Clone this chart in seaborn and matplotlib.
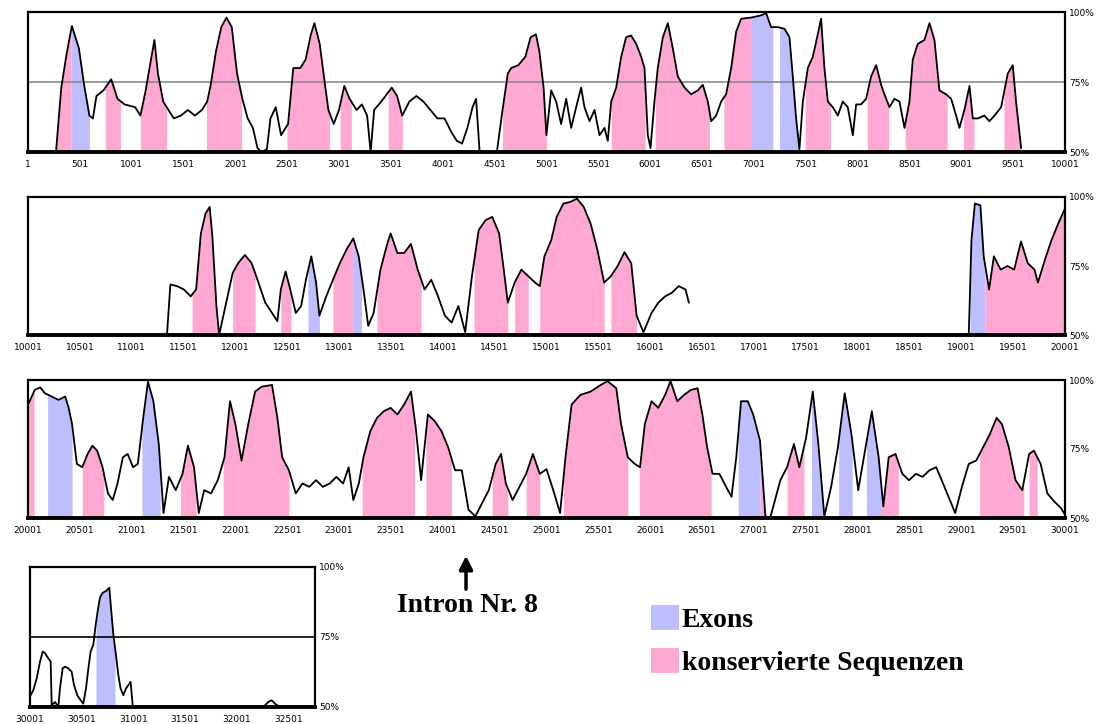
import numpy as np
import pandas as pd
import matplotlib
matplotlib.use("Agg")
import matplotlib.pyplot as plt
import seaborn as sns
from matplotlib.patches import Patch

nan = np.nan

# conservation curves (position in bp, identity in %)
p1_pos = [271, 322, 373, 424, 492, 542, 593, 627, 661, 729, 803, 864, 932, 1034, 1085, 1136, 1187, 1220,
          1254, 1305, 1356, 1407, 1475, 1542, 1610, 1678, 1729, 1763, 1814, 1865, 1915, 1966, 2017, 2068,
          2119, 2170, 2214, 2254, 2305, 2339, 2390, 2441, 2509, 2559, 2627, 2678, 2729, 2763, 2814, 2865,
          2898, 2949, 3000, 3051, 3102, 3170, 3221, 3271, 3305, 3339, 3407, 3509, 3560, 3610, 3678, 3746,
          3814, 3882, 3949, 4017, 4085, 4136, 4187, 4238, 4288, 4322, 4356, 4440, 4526, 4577, 4628, 4661,
          4729, 4797, 4848, 4899, 4932, 4973, 5000, 5046, 5094, 5142, 5191, 5239, 5287, 5335, 5367, 5416,
          5464, 5512, 5560, 5592, 5625, 5673, 5721, 5769, 5817, 5866, 5914, 5946, 5978, 6004, 6042, 6074,
          6123, 6171, 6219, 6267, 6332, 6396, 6460, 6508, 6557, 6589, 6637, 6685, 6733, 6782, 6830, 6878,
          6974, 7071, 7119, 7167, 7232, 7296, 7344, 7376, 7408, 7440, 7473, 7521, 7569, 7617, 7649, 7681,
          7714, 7762, 7810, 7858, 7906, 7955, 7987, 8035, 8083, 8131, 8180, 8228, 8260, 8308, 8356, 8405,
          8453, 8501, 8533, 8581, 8646, 8694, 8742, 8790, 8855, 8903, 8951, 8983, 9031, 9080, 9112, 9160,
          9224, 9272, 9321, 9385, 9449, 9497, 9529, 9578]
p1_val = [50, 73, 85, 95, 87, 74, 63, 62, 70, 72, 76, 69, 67, 66, 63, 72, 83, 90,
          78, 68, 65, 62, 63, 65, 63, 65, 68, 74, 86, 94.6, 98, 94.6, 78, 69,
          62, 58.6, 51.4, 50, 51, 62, 66, 56, 60, 80, 80, 83, 92, 96, 88.6, 74,
          65, 60, 65, 73.6, 69, 65, 67, 63, 50, 65, 68, 73, 70, 63, 68, 70,
          68, 65, 62, 62, 57, 54, 53, 58.6, 66, 69, 50, nan, 51, 65, 78, 80,
          81, 84, 91, 92, 86, 73, 56, 72, 68, 60, 69, 58.6, 66, 73, 66, 61,
          65, 56, 58.6, 54, 68, 73, 84, 91, 91.6, 88.6, 84, 80, 56, 51.4, 68, 80,
          91, 96, 87, 77, 73, 70.6, 72, 74, 68, 61, 63, 68, 70.6, 80, 93, 97.6,
          98, 98.8, 99.6, 94.6, 94.6, 94, 91, 77, 62, 51, 68, 80, 84, 92, 97.6, 80,
          68, 66, 63, 68, 66, 56, 67, 67, 69, 77, 81, 74, 70.6, 66, 69, 68,
          58.6, 68, 83, 88.6, 90, 96, 90, 72, 70.6, 69, 63, 58.6, 65, 73.6, 62, 62,
          63, 61, 63, 66, 78, 81, 68, 51.4]

p2_pos = [11341, 11374, 11439, 11504, 11570, 11622, 11668, 11713, 11753, 11779, 11818, 11844, 11975, 12027,
          12093, 12158, 12223, 12289, 12354, 12406, 12439, 12485, 12530, 12583, 12635, 12681, 12733, 12779,
          12811, 12877, 12942, 13008, 13073, 13138, 13190, 13236, 13282, 13334, 13400, 13465, 13498, 13563,
          13628, 13694, 13759, 13825, 13890, 13955, 14021, 14086, 14151, 14217, 14282, 14347, 14413, 14478,
          14544, 14589, 14628, 14694, 14759, 14825, 14890, 14936, 14981, 15047, 15099, 15164, 15230, 15295,
          15360, 15426, 15491, 15557, 15622, 15687, 15753, 15818, 15870, 15936, 16014, 16079, 16145, 16210,
          16276, 16341, 16374, 17700, 19073, 19099, 19132, 19185, 19217, 19269, 19315, 19380, 19446, 19511,
          19577, 19642, 19707, 19740, 19805, 19871, 19936, 20001]
p2_val = [50, 68.3, 67.7, 66.5, 64, 66.5, 86.8, 94, 96.4, 85.6, 60.5, 50, 72.5, 76,
          79, 76, 69, 61.7, 58, 55, 66.5, 73, 66.5, 58, 60.5, 70, 78.5, 69,
          57, 64, 70, 76, 81, 85, 78.5, 66.5, 53.3, 58, 73.7, 83, 86.8, 79.7,
          79.7, 83, 73.7, 66.5, 70, 64, 57, 54.5, 60.5, 51, 71.3, 88, 91.6, 92.8,
          86.8, 73.7, 61.7, 69, 73.7, 71.3, 69, 67.7, 78.5, 84.4, 92.8, 97.6, 98.2, 99.4,
          96.4, 90.4, 81, 69, 71.3, 75, 80, 76, 57, 51, 58, 61.7, 64, 65.3,
          67.7, 66.5, 61.7, nan, 50, 84.4, 97.6, 97, 78.5, 66.5, 78.5, 73.7, 75, 73.7,
          83.9, 76, 73.7, 69, 77, 84.4, 90.4, 95.8]

p3_pos = [20001, 20066, 20119, 20164, 20230, 20295, 20360, 20393, 20426, 20472, 20524, 20576, 20622, 20668,
          20720, 20772, 20818, 20864, 20916, 20962, 21014, 21060, 21112, 21158, 21210, 21262, 21308, 21360,
          21426, 21491, 21543, 21602, 21648, 21700, 21766, 21831, 21896, 21949, 22001, 22060, 22125, 22191,
          22256, 22354, 22406, 22452, 22517, 22583, 22648, 22713, 22779, 22844, 22910, 22975, 23040, 23093,
          23138, 23191, 23236, 23302, 23367, 23432, 23498, 23563, 23628, 23694, 23740, 23792, 23857, 23923,
          23988, 24053, 24119, 24184, 24249, 24315, 24380, 24445, 24511, 24563, 24609, 24674, 24740, 24805,
          24870, 24936, 25001, 25066, 25132, 25184, 25243, 25328, 25426, 25524, 25589, 25674, 25720, 25785,
          25851, 25903, 25949, 26014, 26079, 26145, 26197, 26262, 26328, 26393, 26458, 26504, 26550, 26602,
          26668, 26733, 26785, 26831, 26877, 26942, 26994, 27060, 27112, 27158, 27256, 27321, 27387, 27439,
          27504, 27569, 27622, 27680, 27746, 27811, 27877, 27942, 28007, 28073, 28138, 28204, 28249, 28301,
          28367, 28432, 28497, 28563, 28628, 28694, 28759, 28825, 28890, 28942, 29007, 29073, 29145, 29211,
          29276, 29341, 29393, 29459, 29524, 29589, 29655, 29701, 29766, 29831, 29897, 29962, 30001]
p3_val = [91, 96.4, 97.3, 95.2, 94, 92.8, 94, 89.9, 84, 69.6, 68.4, 73.2, 76.2, 74.4,
          68.4, 58.9, 56.5, 62.5, 72, 73.2, 68.4, 69.6, 86.3, 99.4, 92.3, 76.8, 51.8, 64.9,
          60.1, 66, 76.2, 68.4, 51.8, 60.1, 58.9, 63.7, 72, 92.3, 84, 70.8, 84, 95.8,
          97.6, 98.2, 86.3, 72, 67.3, 58.9, 62.5, 61.3, 63.7, 61.3, 62.5, 64.9, 62.5, 68.4,
          56.5, 62.5, 72, 81.5, 86.3, 88.7, 89.9, 87.5, 91.1, 95.8, 82.7, 63.7, 87.5, 85.1,
          81.5, 75.6, 67.3, 67.3, 53, 50.6, 55.4, 60.1, 69.6, 73.2, 62.5, 56.5, 61.3, 66,
          73.2, 66, 67.7, 60.1, 51.8, 72, 91.1, 94.6, 95.8, 98.2, 99.6, 97, 84, 72,
          69.6, 68.4, 84, 92.3, 89.9, 94.6, 99.6, 92.3, 94.6, 96.4, 97, 87.5, 75.6, 66,
          66, 61.3, 57.7, 72, 92.3, 92.3, 87.5, 78, 50.6, 50, 63.7, 68.4, 76.8, 68.4,
          79, 95.8, 77, 50.6, 61.3, 75.6, 95.2, 80.3, 60.1, 74.4, 88.7, 72, 54.2, 72,
          73.2, 66, 63.7, 66, 64.9, 67.3, 68.4, 62.5, 56.5, 51.8, 61.3, 69.6, 70.8, 75.6,
          80.3, 86.3, 84, 75.6, 63.7, 60.1, 73.2, 74.4, 69.6, 58.9, 56, 53.6, 51.2]

p4_pos = [30007, 30033, 30066, 30098, 30124, 30146, 30178, 30201, 30211, 30243, 30275, 30291, 30317, 30340,
          30372, 30404, 30427, 30459, 30491, 30517, 30543, 30566, 30588, 30614, 30637, 30656, 30678, 30704,
          30737, 30769, 30785, 30808, 30833, 30856, 30878, 30904, 30930, 30953, 30975, 30995, 31600,
          32275, 32308, 32340, 32372, 32404]
p4_val = [54.2, 56, 60.2, 66.2, 69.8, 69.2, 67.4, 66.2, 50.6, 51.8, 50, 56.6, 63.8, 64.4,
          63.8, 62.6, 57.8, 54.2, 52.4, 51.2, 56.6, 63.8, 69.8, 72.2, 79.4, 84.2, 89, 90.8,
          91.4, 92.6, 85.4, 75.8, 68.6, 61.4, 56.6, 54.2, 56.6, 57.8, 59, 50.6, nan,
          50.6, 51.8, 52.4, 51.2, 50.4]

# annotated regions (start, end in bp)
p1_cons = [(271, 417), (746, 892), (1085, 1339), (1722, 2061), (2498, 2909), (3010, 3119), (3475, 3610),
           (4577, 5000), (5625, 5953), (6049, 6573), (6711, 6969), (7496, 7740), (8094, 8300),
           (8460, 8865), (9023, 9123), (9412, 9573)]
p1_exon = [(417, 593), (6969, 7184), (7248, 7441)]
p2_cons = [(11583, 11831), (11975, 12191), (12439, 12537), (12942, 13138), (13367, 13792), (14302, 14628),
           (14694, 14825), (14936, 15557), (15622, 15870), (19230, 20001)]
p2_exon = [(12700, 12811), (13138, 13217), (19086, 19230)]
p3_cons = [(20001, 20060), (20524, 20733), (21472, 21622), (21883, 22517), (23223, 23727), (23838, 24086),
           (24478, 24628), (24805, 24936), (25164, 25785), (25897, 26589), (27060, 27112), (27321, 27484),
           (28230, 28393), (29178, 29603), (29655, 29733)]
p3_exon = [(20190, 20426), (21099, 21276), (26850, 27060), (27556, 27680), (27818, 27949), (28086, 28230)]
p4_cons = []
p4_exon = [(30640, 30824)]

p1_ticks = list(range(1, 10002, 500))
p2_ticks = list(range(10001, 20002, 500))
p3_ticks = list(range(20001, 30002, 500))
p4_ticks = list(range(30001, 32502, 500))

pct_ticks = [50, 75, 100]
pct_labels = ["50%", "75%", "100%"]

PINK = "#FFA8D4"
BLUE = "#BEBEFF"

sns.set_style("white")
plt.rcParams["font.family"] = ["DejaVu Sans"]
plt.rcParams["text.color"] = "black"
plt.rcParams["xtick.color"] = "black"
plt.rcParams["ytick.color"] = "black"

fig = plt.figure(figsize=(11.01, 7.24), dpi=100)
W, H = 1101, 724


def box(left, top, right, bottom):
    return [left / W, 1 - bottom / H, (right - left) / W, (bottom - top) / H]


def draw_panel(ax, pos, val, cons, exon, xlim, ticks, midline):
    df = pd.DataFrame({"pos": pos, "val": val})
    df["seg"] = df["val"].isna().cumsum()
    df = df.dropna()
    for regions, col in ((cons, PINK), (exon, BLUE)):
        for a, b in regions:
            xs = np.linspace(a, b, 200)
            ys = np.interp(xs, df["pos"], df["val"])
            ax.fill_between(xs, 50, ys, color=col, lw=0, zorder=1)
    if midline:
        ax.axhline(75, color=midline, lw=1.2, zorder=1.5)
    sns.lineplot(data=df, x="pos", y="val", units="seg", estimator=None, color="black",
                 lw=1.3, ax=ax, legend=False, zorder=3)
    ax.set_xlim(*xlim)
    ax.set_ylim(50, 100)
    ax.set_xlabel("")
    ax.set_ylabel("")
    ax.set_xticks(ticks)
    ax.set_xticklabels([str(t) for t in ticks], fontsize=6.5, color="black")
    ax.yaxis.tick_right()
    ax.set_yticks(pct_ticks)
    ax.set_yticklabels(pct_labels, fontsize=6.5, color="black")
    ax.tick_params(axis="x", direction="out", length=4, width=1.2, pad=2, colors="black")
    ax.tick_params(axis="y", length=0, pad=3)
    for s in ax.spines.values():
        s.set_visible(True)
        s.set_color("black")
        s.set_linewidth(1.6)
    ax.spines["bottom"].set_linewidth(2.8)
    ax.grid(False)


ax1 = fig.add_axes(box(28, 12, 1065, 152))
draw_panel(ax1, p1_pos, p1_val, p1_cons, p1_exon, (1, 10001), p1_ticks, "#8a8a8a")
ax2 = fig.add_axes(box(28, 197, 1065, 335))
draw_panel(ax2, p2_pos, p2_val, p2_cons, p2_exon, (10001, 20001), p2_ticks, None)
ax3 = fig.add_axes(box(28, 380, 1065, 518))
draw_panel(ax3, p3_pos, p3_val, p3_cons, p3_exon, (20001, 30001), p3_ticks, None)
ax4 = fig.add_axes(box(30, 567, 315, 707))
draw_panel(ax4, p4_pos, p4_val, p4_cons, p4_exon, (30001, 32760), p4_ticks, "black")

serif = dict(family="Liberation Serif", weight="bold", size=20)

ax4.annotate("", xy=(466 / W, 1 - 553 / H), xytext=(466 / W, 1 - 592 / H),
             xycoords="figure fraction", textcoords="figure fraction", annotation_clip=False,
             arrowprops=dict(arrowstyle="-|>", color="black", lw=2.5, mutation_scale=20))
fig.text(467 / W, 1 - 606 / H, "Intron Nr. 8", ha="center", va="center", color="black", **serif)

handles = [Patch(facecolor=BLUE, edgecolor="none", label="Exons"),
           Patch(facecolor=PINK, edgecolor="none", label="konservierte Sequenzen")]
leg = fig.legend(handles=handles, loc="upper left", bbox_to_anchor=(651 / W, 1 - 605 / H), frameon=False,
                 prop=serif, handlelength=1.0, handleheight=1.0, handletextpad=0.1,
                 labelspacing=0.55, borderpad=0, borderaxespad=0)
for t in leg.get_texts():
    t.set_color("black")

fig.savefig("out.png", dpi=100)
